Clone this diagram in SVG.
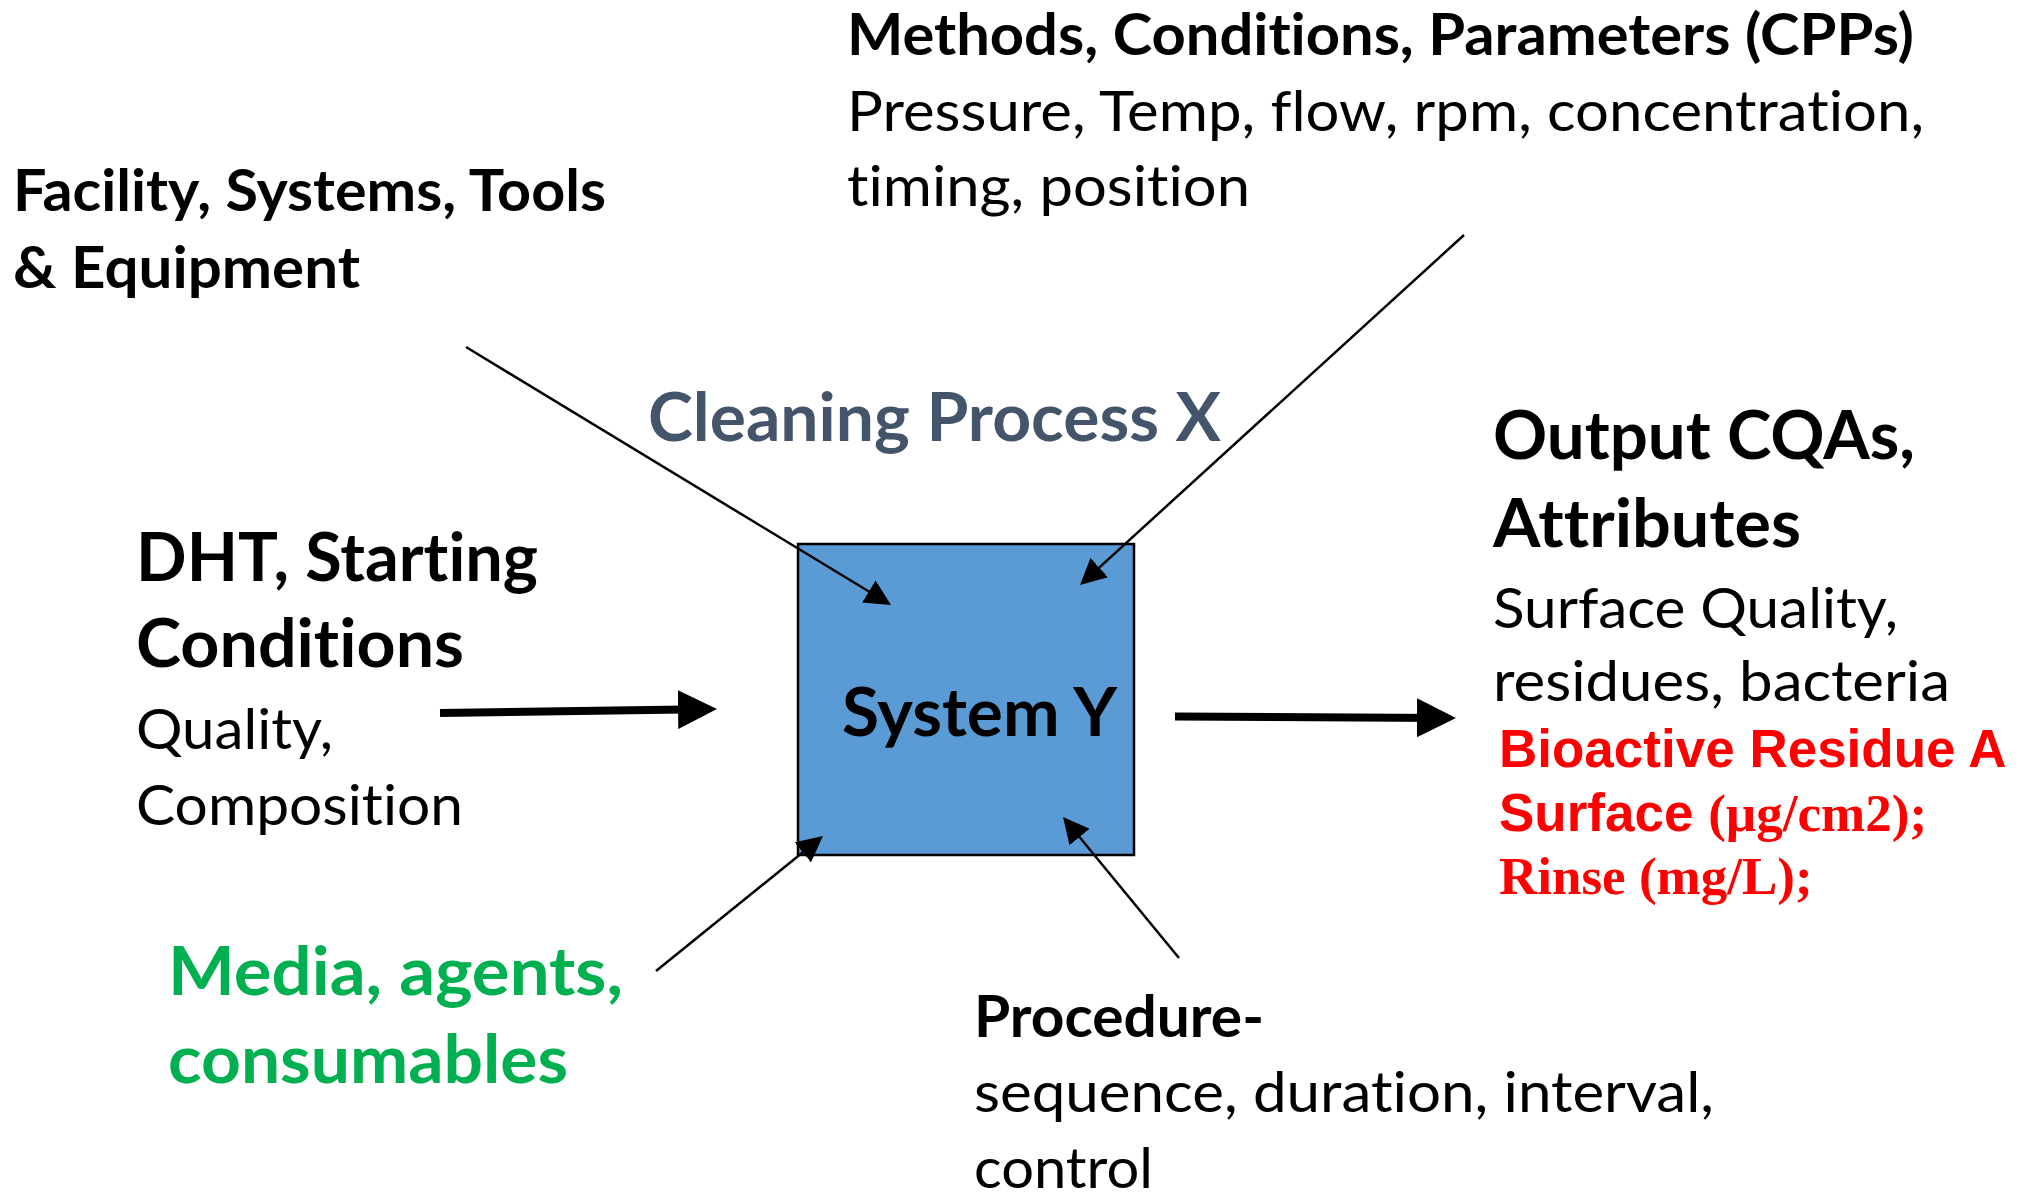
<svg xmlns="http://www.w3.org/2000/svg" width="2032" height="1192" viewBox="0 0 2032 1192">
  <style>
    .lbl { font-family: Lato, "Open Sans", "DejaVu Sans", sans-serif; font-variant-ligatures: none; font-feature-settings: "liga" 0, "clig" 0, "dlig" 0; }
    .b { font-weight: bold; }
    .big { font-size: 66.5px; }
    .mid { font-size: 57px; }
    .ink { fill: #000000; }
    .slate { fill: #44546A; }
    .green { fill: #00B050; }
    .red { fill: #FF0000; font-weight: bold; font-size: 53px; }
    .arial { font-family: "Liberation Sans", Arial, sans-serif; }
    .times { font-family: "Liberation Serif", "Times New Roman", serif; }
    .thin { stroke: #000000; stroke-width: 2.5; fill: none; }
    .thick { stroke: #000000; stroke-width: 8; fill: none; }
  </style>
  <defs>
    <marker id="headThin" markerUnits="userSpaceOnUse" viewBox="0 0 26 26" markerWidth="26" markerHeight="26" refX="16" refY="13" orient="auto">
      <path d="M0,0 L26,13 L0,26 Z" fill="#000000"/>
    </marker>
    <marker id="headThick" markerUnits="userSpaceOnUse" viewBox="0 0 39 39" markerWidth="39" markerHeight="39" refX="24" refY="19.5" orient="auto">
      <path d="M0,0 L39,19.5 L0,39 Z" fill="#000000"/>
    </marker>
  </defs>
  <rect width="2032" height="1192" fill="#FFFFFF"/>

  <!-- central system box -->
  <g id="system-y">
    <rect x="798" y="544" width="336" height="311" fill="#5B9BD5" stroke="#000000" stroke-width="2.5"/>
    <text class="lbl b big ink" x="842" y="736" textLength="275" lengthAdjust="spacingAndGlyphs">System Y</text>
  </g>

  <g id="process-title">
    <text class="lbl b big slate" x="648" y="441" textLength="573" lengthAdjust="spacingAndGlyphs">Cleaning Process X</text>
  </g>

  <g id="methods">
    <text class="lbl b mid ink" x="847" y="55" textLength="1067" lengthAdjust="spacingAndGlyphs">Methods, Conditions, Parameters (CPPs)</text>
    <text class="lbl mid ink" x="847" y="131" textLength="1077" lengthAdjust="spacingAndGlyphs">Pressure, Temp, flow, rpm, concentration,</text>
    <text class="lbl mid ink" x="847" y="206" textLength="403" lengthAdjust="spacingAndGlyphs">timing, position</text>
  </g>

  <g id="facility">
    <text class="lbl b mid ink" x="13" y="211" textLength="593" lengthAdjust="spacingAndGlyphs">Facility, Systems, Tools</text>
    <text class="lbl b mid ink" x="13" y="288" textLength="347" lengthAdjust="spacingAndGlyphs">&amp; Equipment</text>
  </g>

  <g id="starting-conditions">
    <text class="lbl b big ink" x="136" y="581" textLength="402" lengthAdjust="spacingAndGlyphs">DHT, Starting</text>
    <text class="lbl b big ink" x="136" y="667" textLength="328" lengthAdjust="spacingAndGlyphs">Conditions</text>
    <text class="lbl mid ink" x="136" y="749" textLength="197" lengthAdjust="spacingAndGlyphs">Quality,</text>
    <text class="lbl mid ink" x="136" y="825" textLength="327" lengthAdjust="spacingAndGlyphs">Composition</text>
  </g>

  <g id="outputs">
    <text class="lbl b big ink" x="1493" y="459" textLength="422" lengthAdjust="spacingAndGlyphs">Output CQAs,</text>
    <text class="lbl b big ink" x="1493" y="547" textLength="308" lengthAdjust="spacingAndGlyphs">Attributes</text>
    <text class="lbl mid ink" x="1493" y="628" textLength="405" lengthAdjust="spacingAndGlyphs">Surface Quality,</text>
    <text class="lbl mid ink" x="1493" y="701" textLength="457" lengthAdjust="spacingAndGlyphs">residues, bacteria</text>
    <text class="red arial" x="1499" y="767">Bioactive Residue A</text>
    <text class="red" x="1499" y="831"><tspan class="arial">Surface </tspan><tspan class="times">(µg/cm2);</tspan></text>
    <text class="red times" x="1499" y="894">Rinse (mg/L);</text>
  </g>

  <g id="media">
    <text class="lbl b big green" x="168" y="995" textLength="455" lengthAdjust="spacingAndGlyphs">Media, agents,</text>
    <text class="lbl b big green" x="168" y="1083" textLength="400" lengthAdjust="spacingAndGlyphs">consumables</text>
  </g>

  <g id="procedure">
    <text class="lbl b mid ink" x="974" y="1037" textLength="290" lengthAdjust="spacingAndGlyphs">Procedure-</text>
    <text class="lbl mid ink" x="974" y="1112" textLength="740" lengthAdjust="spacingAndGlyphs">sequence, duration, interval,</text>
    <text class="lbl mid ink" x="974" y="1188" textLength="179" lengthAdjust="spacingAndGlyphs">control</text>
  </g>

  <!-- connectors into and out of the system box -->
  <g id="connectors">
    <line class="thin" x1="466" y1="347" x2="882.5" y2="599.8" marker-end="url(#headThin)"/>
    <line class="thin" x1="1464" y1="235" x2="1087.4" y2="578.3" marker-end="url(#headThin)"/>
    <line class="thin" x1="656" y1="971" x2="815.2" y2="842.3" marker-end="url(#headThin)"/>
    <line class="thin" x1="1179" y1="958" x2="1069.4" y2="824.7" marker-end="url(#headThin)"/>
    <line class="thick" x1="440" y1="713" x2="702" y2="709.2" marker-end="url(#headThick)"/>
    <line class="thick" x1="1175" y1="716.5" x2="1441" y2="717.9" marker-end="url(#headThick)"/>
  </g>
</svg>
